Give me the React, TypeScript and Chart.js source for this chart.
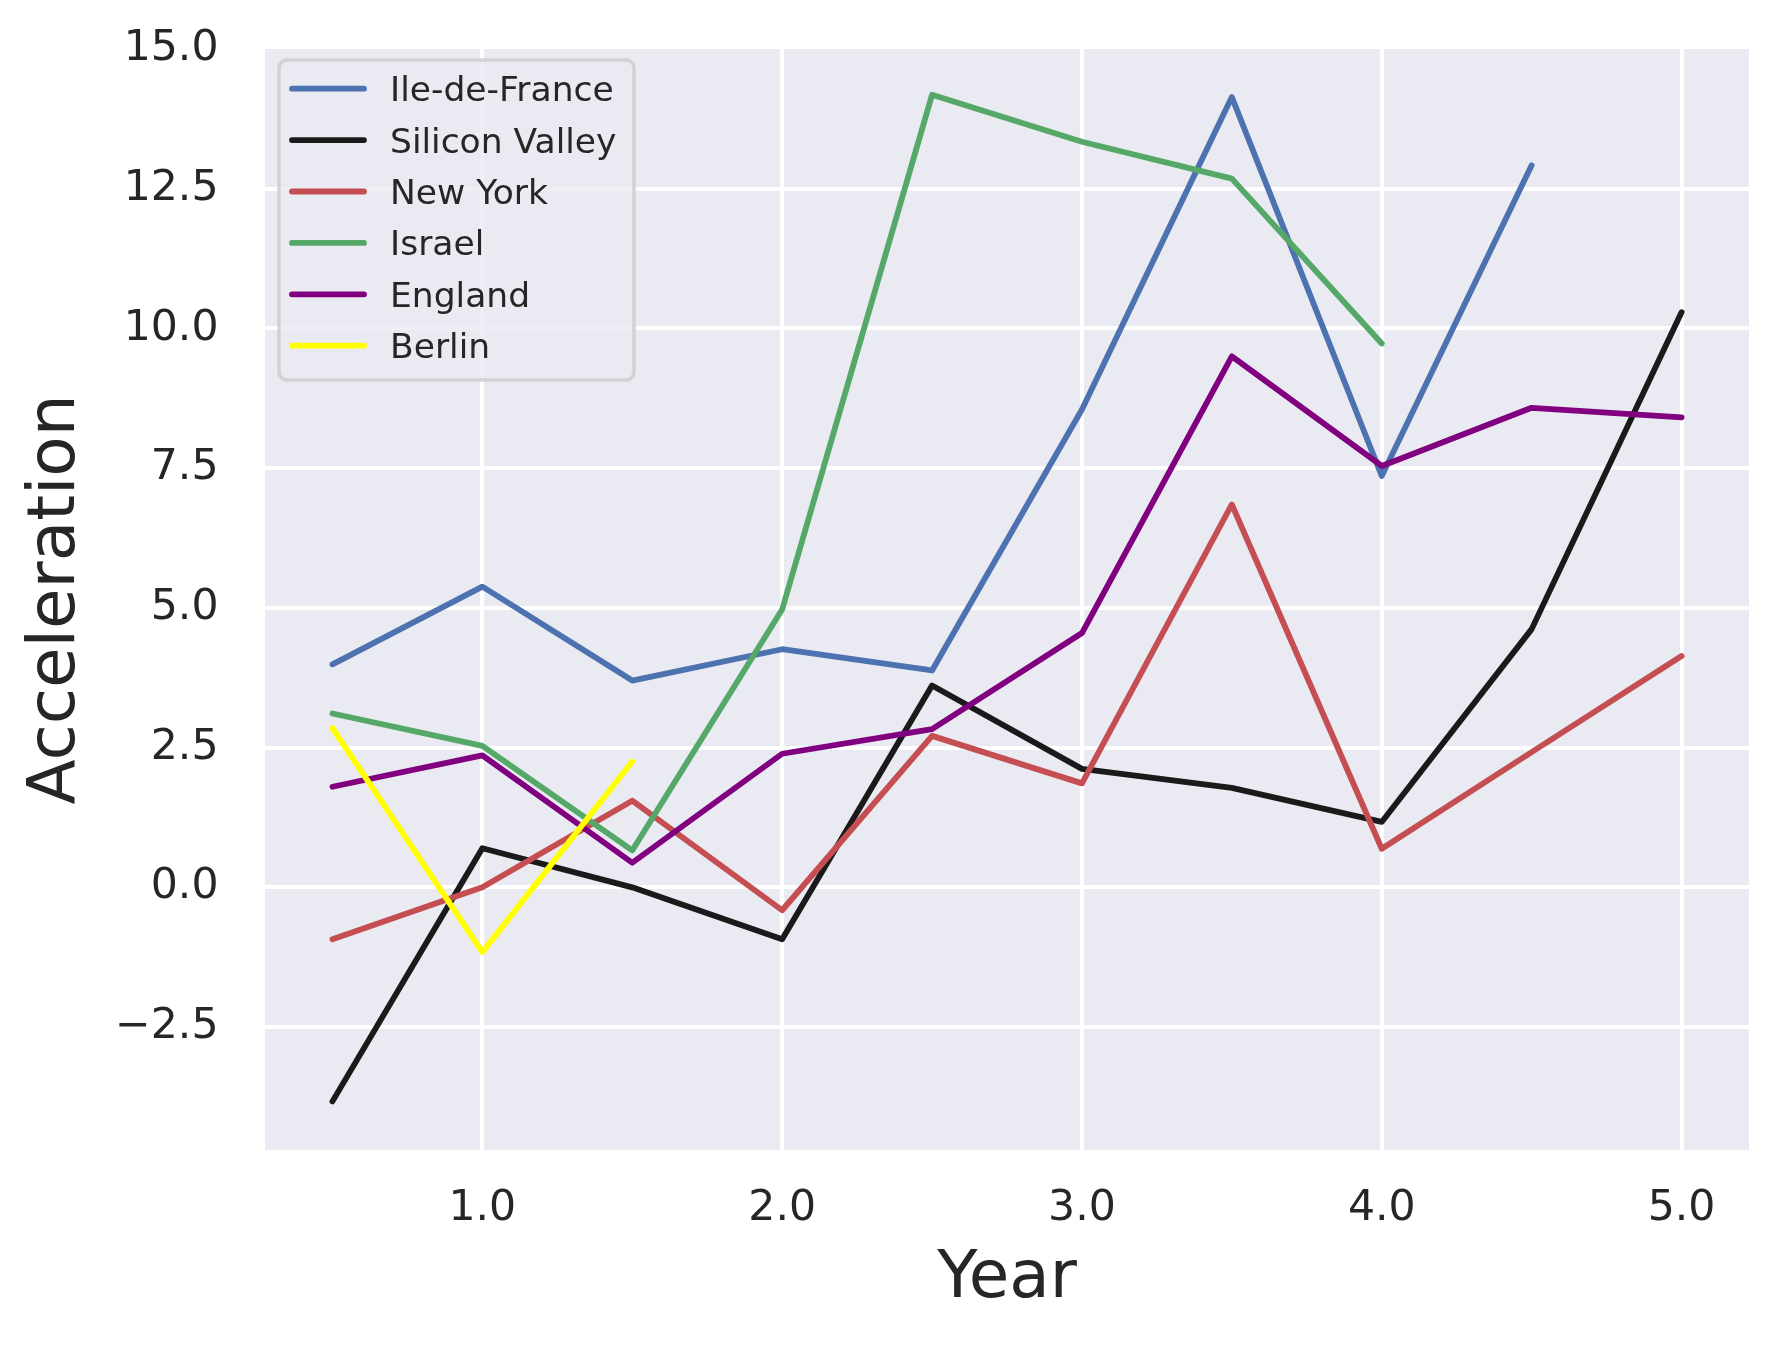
import React, { useEffect, useRef } from "react";
import { Chart, registerables } from "chart.js";

Chart.register(...registerables);

// ---- data ----
const years = [0.5, 1.0, 1.5, 2.0, 2.5, 3.0, 3.5, 4.0, 4.5, 5.0];
const seriesNames = ["Ile-de-France", "Silicon Valley", "New York", "Israel", "England", "Berlin"];
const ileDeFrance = [3.99, 5.38, 3.7, 4.26, 3.88, 8.55, 14.14, 7.36, 12.92, null];
const siliconValley = [-3.83, 0.7, 0.0, -0.93, 3.61, 2.12, 1.78, 1.17, 4.62, 10.29];
const newYork = [-0.93, 0.0, 1.55, -0.41, 2.71, 1.86, 6.85, 0.69, 2.42, 4.14];
const israel = [3.11, 2.53, 0.66, 4.97, 14.18, 13.34, 12.68, 9.73, null, null];
const england = [1.8, 2.36, 0.44, 2.39, 2.83, 4.55, 9.5, 7.54, 8.58, 8.41];
const berlin = [2.85, -1.16, 2.25, null, null, null, null, null, null, null];
const seriesValues = [ileDeFrance, siliconValley, newYork, israel, england, berlin];
const seriesColors = ["#4C72B0", "#1A1A1A", "#C44E52", "#55A868", "#800080", "#FFFF00"];
const xTicks = [1.0, 2.0, 3.0, 4.0, 5.0];
const yTicks = [-2.5, 0.0, 2.5, 5.0, 7.5, 10.0, 12.5, 15.0];
const xLabel = "Year";
const yLabel = "Acceleration";

const FONT = "'DejaVu Sans', 'Liberation Sans', sans-serif";
const TEXT = "#262626";

function fmt(v: number): string {
  return v.toFixed(1).replace("-", "\u2212");
}

const bgPlugin = {
  id: "bgPlugin",
  beforeDraw(chart: any) {
    const { ctx, chartArea, width, height } = chart;
    ctx.save();
    ctx.fillStyle = "#FFFFFF";
    ctx.fillRect(0, 0, width, height);
    ctx.fillStyle = "#EAEAF2";
    ctx.fillRect(chartArea.left, chartArea.top, chartArea.right - chartArea.left, chartArea.bottom - chartArea.top);
    ctx.restore();
  },
};

const legendPlugin = {
  id: "boxLegend",
  afterDatasetsDraw(chart: any) {
    const { ctx, chartArea } = chart;
    const fs = 34.5;
    const left = chartArea.left + 14;
    const top = chartArea.top + 11;
    const w = 355;
    const h = 320;
    const r = 8;
    ctx.save();
    ctx.beginPath();
    ctx.moveTo(left + r, top);
    ctx.lineTo(left + w - r, top);
    ctx.arcTo(left + w, top, left + w, top + r, r);
    ctx.lineTo(left + w, top + h - r);
    ctx.arcTo(left + w, top + h, left + w - r, top + h, r);
    ctx.lineTo(left + r, top + h);
    ctx.arcTo(left, top + h, left, top + h - r, r);
    ctx.lineTo(left, top + r);
    ctx.arcTo(left, top, left + r, top, r);
    ctx.closePath();
    ctx.fillStyle = "rgba(234,234,242,0.8)";
    ctx.fill();
    ctx.lineWidth = 3.5;
    ctx.strokeStyle = "rgba(204,204,204,0.8)";
    ctx.stroke();

    chart.data.datasets.forEach((ds: any, i: number) => {
      const cy = top + 28.7 + 51.4 * i;
      ctx.beginPath();
      ctx.lineCap = "round";
      ctx.lineWidth = 5.8;
      ctx.strokeStyle = ds.borderColor;
      ctx.moveTo(left + 13, cy);
      ctx.lineTo(left + 85, cy);
      ctx.stroke();
      ctx.fillStyle = TEXT;
      ctx.font = `${fs}px ${FONT}`;
      ctx.textBaseline = "alphabetic";
      ctx.textAlign = "left";
      ctx.fillText(ds.label, left + 111, cy + 0.365 * fs);
    });
    ctx.restore();
  },
};

export default function App() {
  const ref = useRef<HTMLCanvasElement | null>(null);

  useEffect(() => {
    if (!ref.current) return;
    const datasets = seriesNames.map((name, i) => ({
      label: name,
      data: years.map((x, j) => ({ x, y: seriesValues[i][j] })),
      borderColor: seriesColors[i],
      backgroundColor: seriesColors[i],
      borderWidth: 5.8,
      borderCapStyle: "round" as const,
      borderJoinStyle: "round" as const,
      pointRadius: 0,
      pointHoverRadius: 0,
      fill: false,
      tension: 0,
      spanGaps: false,
      order: -i,
    }));

    const chart = new Chart(ref.current, {
      type: "line",
      data: { datasets },
      options: {
        animation: false,
        responsive: false,
        devicePixelRatio: 1,
        events: [],
        layout: { padding: { left: 0, top: 49, right: 36, bottom: 0 } },
        plugins: {
          legend: { display: false },
          tooltip: { enabled: false },
          title: { display: false },
        },
        scales: {
          x: {
            type: "linear",
            min: 0.275,
            max: 5.225,
            afterBuildTicks: (scale: any) => {
              scale.ticks = xTicks.map((v) => ({ value: v }));
            },
            afterFit: (scale: any) => {
              scale.height = 197;
              scale.paddingLeft = 0;
              scale.paddingRight = 0;
            },
            ticks: {
              autoSkip: false,
              maxRotation: 0,
              minRotation: 0,
              padding: 33.4,
              color: TEXT,
              font: { family: FONT, size: 42.6, lineHeight: 1.2 },
              callback: (v: any) => fmt(Number(v)),
            },
            grid: { color: "#FFFFFF", lineWidth: 4, drawTicks: false },
            border: { display: false },
            title: {
              display: true,
              text: xLabel,
              color: TEXT,
              font: { family: FONT, size: 66, lineHeight: 1.2 },
              padding: { top: 0, bottom: 27.4 },
            },
          },
          y: {
            type: "linear",
            min: -4.7,
            max: 15.0,
            afterBuildTicks: (scale: any) => {
              scale.ticks = yTicks.map((v) => ({ value: v }));
            },
            afterFit: (scale: any) => {
              scale.width = 265;
              scale.paddingTop = 0;
              scale.paddingBottom = 0;
            },
            ticks: {
              autoSkip: false,
              padding: 46.5,
              color: TEXT,
              font: { family: FONT, size: 42.6, lineHeight: 1.2 },
              callback: (v: any) => fmt(Number(v)),
            },
            grid: {
              color: (c: any) => (c.tick && c.tick.value === 15 ? "rgba(0,0,0,0)" : "#FFFFFF"),
              lineWidth: 4,
              drawTicks: false,
            },
            border: { display: false },
            title: {
              display: true,
              text: yLabel,
              color: TEXT,
              font: { family: FONT, size: 66, lineHeight: 1.2 },
              padding: { top: 17.6, bottom: 0 },
            },
          },
        },
      },
      plugins: [bgPlugin, legendPlugin],
    });
    return () => chart.destroy();
  }, []);

  return (
    <div style={{ position: "absolute", left: 0, top: 0, width: 1785, height: 1347, background: "#fff" }}>
      <canvas ref={ref} width={1785} height={1347} style={{ display: "block", width: 1785, height: 1347 }} />
    </div>
  );
}
